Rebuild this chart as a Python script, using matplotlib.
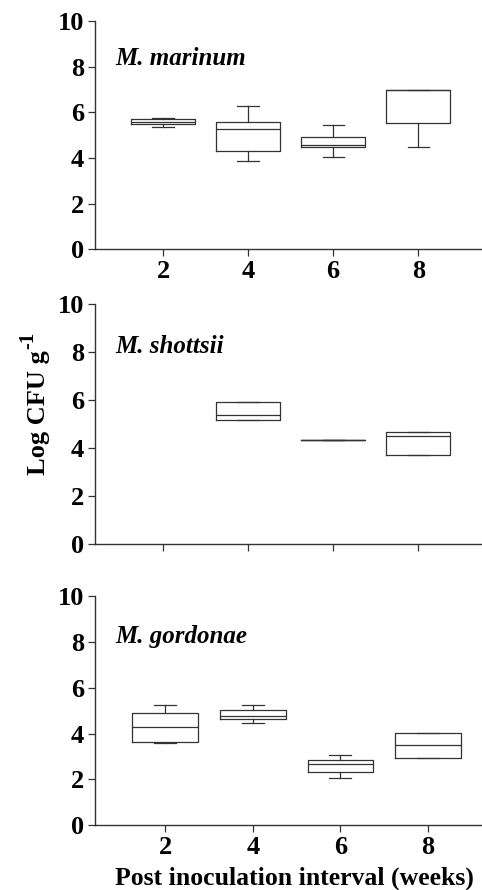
import matplotlib
matplotlib.use("Agg")
import matplotlib.pyplot as plt

plt.rcParams['font.family'] = ['Liberation Serif', 'DejaVu Serif']
plt.rcParams['font.weight'] = 'bold'

WEEKS = [2, 4, 6, 8]
SPECIES = ['M. marinum', 'M. shottsii', 'M. gordonae']

# per species, per week: whisker low, q1, median, q3, whisker high
MARINUM_LO = [5.35, 3.89, 4.06, 4.49]
MARINUM_Q1 = [5.50, 4.31, 4.49, 5.53]
MARINUM_MED = [5.60, 5.29, 4.58, 7.00]
MARINUM_Q3 = [5.70, 5.58, 4.94, 7.00]
MARINUM_HI = [5.75, 6.27, 5.45, 7.00]

# no data for week 2
SHOTTSII_WEEKS = [4, 6, 8]
SHOTTSII_LO = [5.16, 4.34, 3.71]
SHOTTSII_Q1 = [5.16, 4.34, 3.71]
SHOTTSII_MED = [5.37, 4.34, 4.49]
SHOTTSII_Q3 = [5.92, 4.34, 4.66]
SHOTTSII_HI = [5.92, 4.34, 4.66]

GORDONAE_LO = [3.58, 4.45, 2.05, 2.94]
GORDONAE_Q1 = [3.64, 4.62, 2.30, 2.94]
GORDONAE_MED = [4.28, 4.75, 2.65, 3.48]
GORDONAE_Q3 = [4.90, 5.04, 2.85, 4.03]
GORDONAE_HI = [5.25, 5.25, 3.07, 4.03]

PANELS = [
    (WEEKS, MARINUM_LO, MARINUM_Q1, MARINUM_MED, MARINUM_Q3, MARINUM_HI),
    (SHOTTSII_WEEKS, SHOTTSII_LO, SHOTTSII_Q1, SHOTTSII_MED, SHOTTSII_Q3,
     SHOTTSII_HI),
    (WEEKS, GORDONAE_LO, GORDONAE_Q1, GORDONAE_MED, GORDONAE_Q3, GORDONAE_HI),
]

AX_RECTS = [
    [0.197, 0.720, 0.803, 0.256],
    [0.197, 0.389, 0.803, 0.269],
    [0.197, 0.073, 0.803, 0.257],
]
XLIMS = [(0.4, 9.5), (0.4, 9.5), (0.4, 9.23)]
LABEL_Y = [0.81, 0.797, 0.795]

LINE = '#333333'

fig = plt.figure(figsize=(4.82, 8.9), dpi=100)

for i, (weeks, lo, q1, med, q3, hi) in enumerate(PANELS):
    ax = fig.add_axes(AX_RECTS[i])
    stats = [dict(whislo=a, q1=b, med=c, q3=d, whishi=e, fliers=[])
             for a, b, c, d, e in zip(lo, q1, med, q3, hi)]
    ax.bxp(stats, positions=weeks, widths=1.5, capwidths=0.5,
           showfliers=False, manage_ticks=False,
           boxprops=dict(color=LINE, linewidth=0.9),
           medianprops=dict(color=LINE, linewidth=0.9),
           whiskerprops=dict(color=LINE, linewidth=0.9),
           capprops=dict(color=LINE, linewidth=0.9))
    ax.set_xlim(*XLIMS[i])
    ax.set_ylim(0, 10)
    ax.set_yticks([0, 2, 4, 6, 8, 10])
    ax.set_xticks(WEEKS)
    if i == 1:
        ax.set_xticklabels([])
    for s in ('top', 'right'):
        ax.spines[s].set_visible(False)
    for s in ('left', 'bottom'):
        ax.spines[s].set_color(LINE)
        ax.spines[s].set_linewidth(1.0)
    ax.tick_params(direction='out', length=5, width=0.9, color=LINE,
                   labelsize=19, pad=3)
    for lab in ax.get_xticklabels() + ax.get_yticklabels():
        lab.set_fontweight('bold')
    ax.text(0.052, LABEL_Y[i], SPECIES[i], transform=ax.transAxes,
            fontsize=18, fontstyle='italic', fontweight='bold',
            ha='left', va='baseline')

# y label with a hyphen-style superscript, as in the original figure
ylab = fig.text(0.079, 0.536, 'Log CFU g', rotation=90,
                ha='center', va='center', fontsize=19, fontweight='bold')
ax.annotate('-1', xy=(0, 1), xycoords=ylab, xytext=(-6, 1),
            textcoords='offset points', rotation=90, fontsize=15,
            fontweight='bold', ha='left', va='bottom',
            annotation_clip=False)
fig.text(0.61, 0.0135, 'Post inoculation interval (weeks)',
         ha='center', va='center', fontsize=18.5, fontweight='bold')

fig.savefig('out.png', dpi=100)
